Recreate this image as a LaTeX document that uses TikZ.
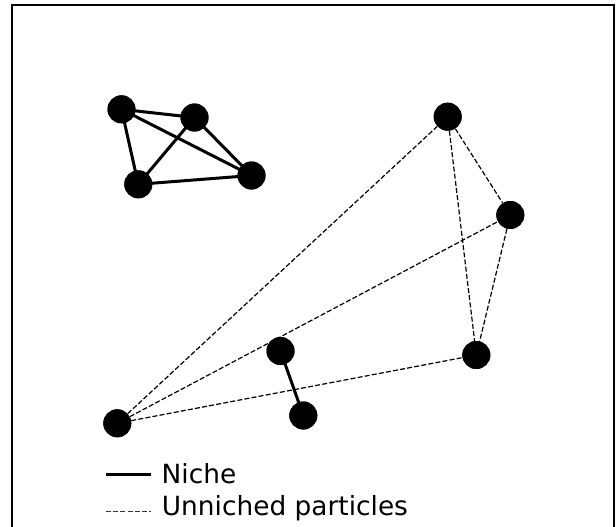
\documentclass[tikz,border=0pt]{standalone}
\usepackage{fontspec}
\setmainfont{DejaVu Sans}
\begin{document}
\begin{tikzpicture}[x=1pt,y=-1pt,
  particle/.style={circle,fill=black,draw=none,minimum size=28pt,inner sep=0pt},
  niche/.style={line width=3pt},
  unniched/.style={line width=1.2pt,dash pattern=on 5pt off 2.2pt},
  legendtext/.style={anchor=base west,inner sep=0pt,font=\fontsize{26.4}{30}\selectfont}]
\useasboundingbox (0,0) rectangle (616,527);
\begin{scope}
\clip (0,0) rectangle (616,527);
\draw[line width=2pt] (12,540) -- (12,5.5) -- (613.5,5.5) -- (613.5,540);
\end{scope}
% niche cluster
\node[particle] (a) at (121.5,109.3) {};
\node[particle] (b) at (194.5,117.5) {};
\node[particle] (c) at (138.3,184.3) {};
\node[particle] (d) at (251.5,175.5) {};
% unniched particles
\node[particle] (e) at (447.7,116.7) {};
\node[particle] (f) at (510.3,215) {};
\node[particle] (g) at (476.3,355) {};
\node[particle] (h) at (117.3,423.3) {};
% small niche
\node[particle] (i) at (280.5,351) {};
\node[particle] (j) at (303.3,415.5) {};
% edges
\begin{scope}[niche]
\draw (a.center) -- (b.center);
\draw (a.center) -- (c.center);
\draw (a.center) -- (d.center);
\draw (b.center) -- (c.center);
\draw (b.center) -- (d.center);
\draw (c.center) -- (d.center);
\draw (i.center) -- (j.center);
\end{scope}
\begin{scope}[unniched]
\draw (h) -- (e);
\draw (h) -- (f);
\draw (h) -- (g);
\draw (e) -- (f);
\draw (e) -- (g);
\draw (f) -- (g);
\end{scope}
% redraw nodes on top
\foreach \n in {a,b,c,d,e,f,g,h,i,j} {\fill (\n.center) circle (14pt);}
% legend
\coordinate (l1a) at (106,474);
\coordinate (l1b) at (151,474);
\coordinate (l2a) at (106,511);
\coordinate (l2b) at (151,511);
\draw[niche] (l1a) -- (l1b);
\draw[unniched,line width=1pt,draw=black!80] (l2a) -- (l2b);
\node[legendtext] (t1) at (161.5,483) {Niche};
\node[legendtext] (t2) at (161.7,515) {Unniched particles};
\end{tikzpicture}
\end{document}
